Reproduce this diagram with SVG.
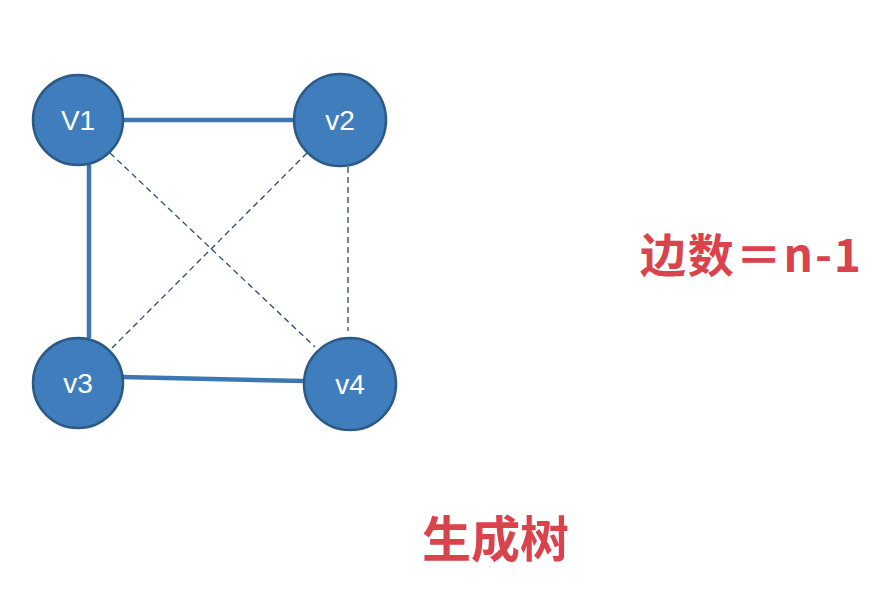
<svg xmlns="http://www.w3.org/2000/svg" width="893" height="603" viewBox="0 0 893 603">
<style>
.node circle{fill:#3f7dbd;stroke:#2c5a86;stroke-width:2.5}
.node text{fill:#fff;font-family:"Liberation Sans",Arial,sans-serif;font-size:28px;text-anchor:middle;dominant-baseline:central}
.solid{stroke:#3c77b4;stroke-width:4.5;fill:none}
.dash{stroke:#2a4a6c;stroke-width:1.3;stroke-dasharray:6,4;fill:none}
.red{fill:#d9434b;font-family:"Noto Sans CJK SC","Noto Sans",sans-serif;font-weight:bold}
</style>
<rect width="893" height="603" fill="#fff"/>
<g id="connectors">
<line class="solid" x1="120" y1="120" x2="296" y2="120"/>
<line class="solid" x1="89" y1="165" x2="89" y2="338"/>
<line class="solid" x1="122" y1="377" x2="305" y2="381"/>
<line class="dash" x1="110" y1="153" x2="315" y2="347"/>
<line class="dash" x1="307" y1="153" x2="112" y2="348"/>
<line class="dash" x1="348" y1="167" x2="348" y2="331"/>
</g>
<g id="v1" class="node"><circle cx="78" cy="120" r="45"/><text x="78" y="120">V1</text></g>
<g id="v2" class="node"><circle cx="340" cy="120" r="46"/><text x="340" y="120">v2</text></g>
<g id="v3" class="node"><circle cx="78" cy="383" r="45"/><text x="78" y="383">v3</text></g>
<g id="v4" class="node"><circle cx="350" cy="384" r="46"/><text x="350" y="384">v4</text></g>
<text class="red" x="640" y="272" font-size="46" textLength="221" lengthAdjust="spacing">边数＝n-1</text>
<text class="red" x="422" y="557" font-size="49">生成树</text>
</svg>
